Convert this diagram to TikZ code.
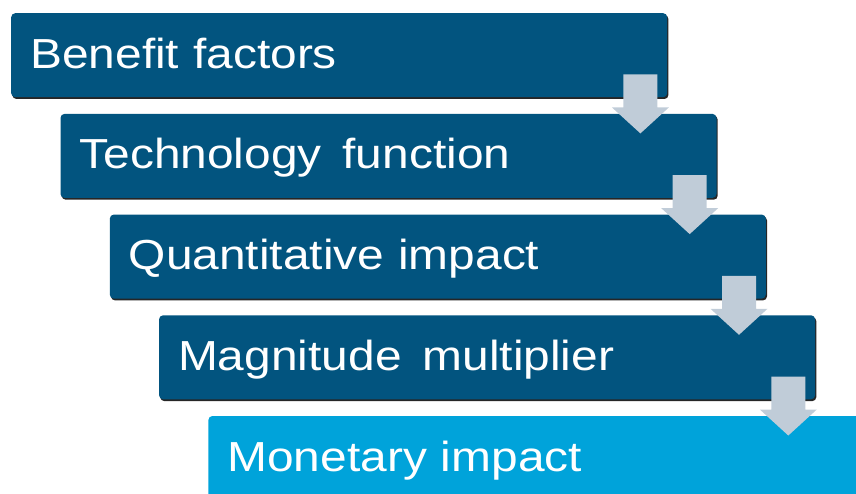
\documentclass[tikz,border=0pt]{standalone}
\usepackage{fontspec}
\newfontfamily\boxfont[FakeStretch=1.14]{Liberation Sans}
\usetikzlibrary{calc,shadows}
\definecolor{darkblue}{HTML}{02547F}
\definecolor{lightblue}{HTML}{00A3DA}
\definecolor{arrowgray}{HTML}{C0CCD8}
\newcommand{\widegap}{\hspace{0.5em}}
\begin{document}
\begin{tikzpicture}[x=1pt,y=-1pt,
  basebox/.style={anchor=north west, rounded corners=4pt, fill=darkblue,
    minimum width=656pt, text width=618pt, inner xsep=19pt, inner ysep=0pt,
    text height=55pt, text depth=29pt, align=left, text=white,
    font=\boxfont\fontsize{42}{48}\selectfont},
  stagebox/.style={basebox, drop shadow={shadow xshift=1.2pt, shadow yshift=-1.8pt, fill=black!85, opacity=1}},
  lastbox/.style={basebox, fill=lightblue},
  flowarrow/.style={fill=arrowgray}]
\useasboundingbox (0,0) rectangle (856,494);
\clip (0,0) rectangle (856,494);
\node[stagebox] (b1) at (11,13) {Benefit factors};
\node[stagebox] (b2) at (60.3,113.7) {Technology\widegap function};
\node[stagebox] (b3) at (109.6,214.4) {Quantitative impact};
\node[stagebox] (b4) at (158.9,315.1) {Magnitude\widegap multiplier};
\node[lastbox] (b5) at (208.2,415.8) {Monetary impact};
\foreach \i in {1,2,3,4}{
  \fill[flowarrow] ($(b\i.south east)+(-44,-23)$) -- ($(b\i.south east)+(-10,-23)$)
    -- ($(b\i.south east)+(-10,10)$) -- ($(b\i.south east)+(1.5,10)$)
    -- ($(b\i.south east)+(-27,36)$) -- ($(b\i.south east)+(-55.5,10)$)
    -- ($(b\i.south east)+(-44,10)$) -- cycle;
}
\end{tikzpicture}
\end{document}
